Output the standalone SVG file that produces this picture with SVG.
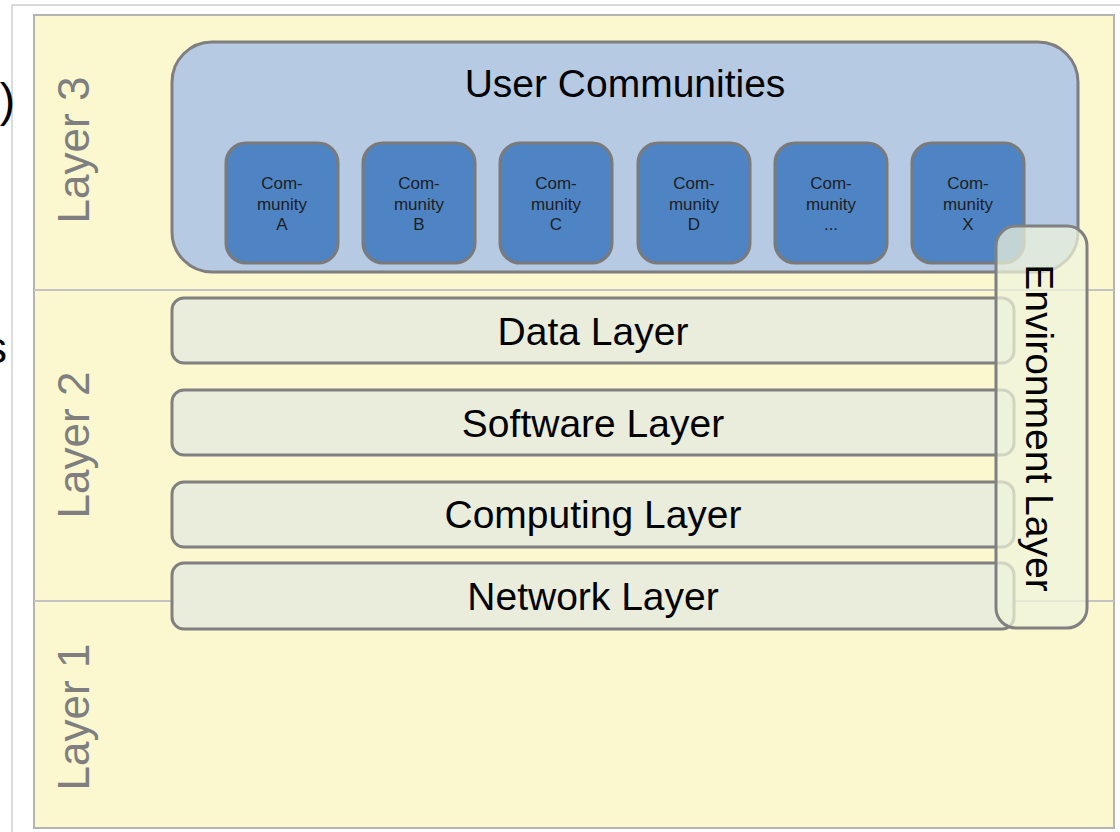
<svg xmlns="http://www.w3.org/2000/svg" width="1120" height="832" viewBox="0 0 1120 832">
<style>
text{font-family:"Liberation Sans",Arial,sans-serif}
.lbl{font-size:44px;fill:#7f7f7f}
.big{font-size:39px;fill:#000;text-anchor:middle}
.com{fill:#4F84C4;stroke:#7a7a7a;stroke-width:3}
.ct{font-size:17px;fill:#1e1e1e;text-anchor:middle}
.lay{fill:#EAEDDC;stroke:#808080;stroke-width:3}
.sep{stroke:#c4c4c4;stroke-width:2}
</style>
<rect width="1120" height="832" fill="#fff"/>
<rect x="12" y="5" width="1130" height="850" fill="none" stroke="#cfcfcf" stroke-width="1.5"/>
<text x="15" y="116" font-size="46" text-anchor="end" fill="#000">)</text>
<text x="7" y="363" font-size="44" text-anchor="end" fill="#000">s</text>
<g id="panel">
<rect x="34" y="15" width="1080" height="813" fill="#FBF7CF" stroke="#b4b4b4" stroke-width="2"/>
<line class="sep" x1="34" y1="290" x2="1114" y2="290"/>
<line class="sep" x1="34" y1="601" x2="1114" y2="601"/>
</g>
<g id="layer3"><text class="lbl" text-anchor="middle" transform="translate(89,150) rotate(-90)">Layer 3</text></g>
<g id="layer2"><text class="lbl" text-anchor="middle" transform="translate(89,445) rotate(-90)">Layer 2</text></g>
<g id="layer1"><text class="lbl" text-anchor="middle" transform="translate(89,717) rotate(-90)">Layer 1</text></g>
<g id="user-communities">
<rect x="172" y="42" width="906" height="230" rx="40" fill="#B6CAE3" stroke="#7f7f7f" stroke-width="3"/>
<text class="big" x="625" y="97">User Communities</text>
</g>
<g id="community-a"><rect class="com" x="226" y="143" width="112" height="120" rx="20"/><text class="ct" x="282" y="189">Com-</text><text class="ct" x="282" y="210">munity</text><text class="ct" x="282" y="230">A</text></g>
<g id="community-b"><rect class="com" x="363" y="143" width="112" height="120" rx="20"/><text class="ct" x="419" y="189">Com-</text><text class="ct" x="419" y="210">munity</text><text class="ct" x="419" y="230">B</text></g>
<g id="community-c"><rect class="com" x="500" y="143" width="112" height="120" rx="20"/><text class="ct" x="556" y="189">Com-</text><text class="ct" x="556" y="210">munity</text><text class="ct" x="556" y="230">C</text></g>
<g id="community-d"><rect class="com" x="638" y="143" width="112" height="120" rx="20"/><text class="ct" x="694" y="189">Com-</text><text class="ct" x="694" y="210">munity</text><text class="ct" x="694" y="230">D</text></g>
<g id="community-etc"><rect class="com" x="775" y="143" width="112" height="120" rx="20"/><text class="ct" x="831" y="189">Com-</text><text class="ct" x="831" y="210">munity</text><text class="ct" x="831" y="230">...</text></g>
<g id="community-x"><rect class="com" x="912" y="143" width="112" height="120" rx="20"/><text class="ct" x="968" y="189">Com-</text><text class="ct" x="968" y="210">munity</text><text class="ct" x="968" y="230">X</text></g>
<g id="data-layer"><rect class="lay" x="172" y="298" width="842" height="65" rx="12"/><text class="big" x="593" y="345">Data Layer</text></g>
<g id="software-layer"><rect class="lay" x="172" y="390" width="842" height="65" rx="12"/><text class="big" x="593" y="437">Software Layer</text></g>
<g id="computing-layer"><rect class="lay" x="172" y="482" width="842" height="65" rx="12"/><text class="big" x="593" y="528">Computing Layer</text></g>
<g id="network-layer"><rect class="lay" x="172" y="563" width="842" height="66" rx="12"/><text class="big" x="593" y="610">Network Layer</text></g>
<g id="environment-layer">
<rect x="996" y="226" width="91" height="402" rx="20" fill="#EFF4D9" fill-opacity="0.72" stroke="#808080" stroke-width="3"/>
<text font-size="39" fill="#000" text-anchor="middle" transform="translate(1026,428) rotate(90)">Environment Layer</text>
</g>
<g id="connectors"/>
</svg>
